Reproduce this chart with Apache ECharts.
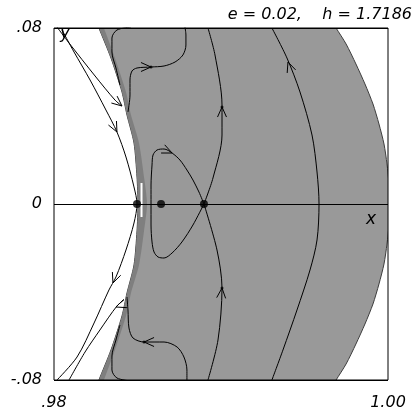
<!DOCTYPE html>
<html>
<head>
<meta charset="utf-8">
<script src="https://cdn.jsdelivr.net/npm/echarts@6.0.0/dist/echarts.min.js"></script>
<style>
html,body{margin:0;padding:0;background:#fff;}
#main{width:420px;height:420px;}
</style>
</head>
<body>
<div id="main"></div>
<script>
// shaded region, left edge (top -> bottom) and right edge (bottom -> top)
var shadeLeft = [[0.98251,0.08364],[0.98269,0.08],[0.98341,0.06636],[0.98407,0.05091],[0.98437,0.04045],[0.98479,0.02773],[0.98497,0.01227],[0.98503,0],
    [0.98497,-0.01227],[0.98479,-0.02773],[0.98437,-0.04045],[0.98407,-0.05091],[0.98341,-0.06636],[0.98269,-0.08],[0.98251,-0.08364]];
var shadeRight = [[0.99659,-0.08364],[0.99689,-0.08],[0.99749,-0.07273],[0.99808,-0.06364],[0.99862,-0.05455],[0.9991,-0.04545],[0.99946,-0.03636],[0.99976,-0.02727],[0.99994,-0.01818],[1.00006,-0.00909],[1.00012,0],
    [1.00006,0.00909],[0.99994,0.01818],[0.99976,0.02727],[0.99946,0.03636],[0.9991,0.04545],[0.99862,0.05455],[0.99808,0.06364],[0.99749,0.07273],[0.99689,0.08],[0.99659,0.08364]];
// inner edge of the darker band along the left edge
var stripInner = [[0.98281,0.08364],[0.98299,0.08],[0.98365,0.06636],[0.98431,0.05091],[0.98461,0.04045],[0.98509,0.02773],[0.98539,0.01227],[0.98557,0],
    [0.98539,-0.01227],[0.98509,-0.02773],[0.98461,-0.04045],[0.98431,-0.05091],[0.98365,-0.06636],[0.98299,-0.08],[0.98281,-0.08364]];
var notch = [[0.98524,0.00955],[0.98524,-0.00591]];

// orbits
var orbitOuter = [[0.99305,0.08],[0.99395,0.06636],[0.99473,0.05091],[0.99545,0.03136],[0.99575,0.01455],[0.99587,0],[0.99575,-0.01636],[0.99533,-0.03],[0.99455,-0.04818],[0.99371,-0.06636],[0.99305,-0.08]];
var orbitUp = [[0.98898,0],[0.98952,0.01182],[0.99006,0.03136],[0.99006,0.045],[0.98964,0.06773],[0.98922,0.08]];
var orbitDown = [[0.98898,0],[0.98976,-0.02091],[0.99006,-0.03818],[0.98982,-0.06182],[0.98922,-0.08]];
var loopOrbit = [[0.98898,0],[0.98868,0.00545],[0.98832,0.01091],[0.98796,0.01545],[0.98754,0.02],[0.98707,0.02318],[0.98659,0.025],[0.98617,0.02455],[0.98593,0.02227],[0.98587,0.01773],[0.98581,0.00864],[0.98581,0],
    [0.98581,-0.00955],[0.98587,-0.01727],[0.98599,-0.02182],[0.98623,-0.02409],[0.98659,-0.02455],[0.98707,-0.02227],[0.98766,-0.01727],[0.98832,-0.00955],[0.98898,0]];
var hookTop = [[0.98443,0.04182],[0.98455,0.04955],[0.98455,0.05636],[0.98467,0.06045],[0.98497,0.06182],[0.98581,0.06227],[0.98659,0.06273],[0.98725,0.06455],[0.98772,0.06773],[0.9879,0.07227],[0.9879,0.07682],[0.98784,0.08045]];
var hookBottom = [[0.98437,-0.04227],[0.98443,-0.04818],[0.98449,-0.05636],[0.98473,-0.06091],[0.98539,-0.06273],[0.98659,-0.06273],[0.98737,-0.065],[0.98778,-0.06955],[0.98796,-0.07545],[0.98796,-0.08091]];
var capTop = [[0.98461,0.08045],[0.98377,0.07909],[0.98347,0.07545],[0.98347,0.06909],[0.98371,0.06182],[0.98395,0.05409]];
var capBottom = [[0.98461,-0.08045],[0.98377,-0.07909],[0.98347,-0.07545],[0.98347,-0.06909],[0.98371,-0.06182],[0.98395,-0.055]];
var leftInner = [[0.98048,0.07909],[0.9812,0.06909],[0.98216,0.05636],[0.98311,0.04273],[0.98377,0.03273],[0.98431,0.02136],[0.98479,0.00773],[0.98497,0],
    [0.98479,-0.00864],[0.98431,-0.02091],[0.98371,-0.03318],[0.98329,-0.03909],[0.9824,-0.05409],[0.98138,-0.06955],[0.98018,-0.08]];
var leftOuterTop = [[0.98018,0.08045],[0.9809,0.07318],[0.98246,0.05818],[0.98365,0.04727],[0.98407,0.04455]];
var leftOuterBottom = [[0.98419,-0.04364],[0.98377,-0.04636],[0.98275,-0.05727],[0.98186,-0.06727],[0.9809,-0.08]];

// arrowheads: [tip x, tip y, back x, back y]
var arrowHeads = [
    [0.99401,0.06455,0.99425,0.05955],
    [0.99006,0.04409,0.99006,0.03864],
    [0.99006,-0.03818,0.99,-0.04364],
    [0.98707,0.02318,0.98653,0.025],
    [0.98581,0.06227,0.98515,0.06227],
    [0.98539,-0.06273,0.98605,-0.06273],
    [0.98377,0.03273,0.98335,0.03909],
    [0.98353,-0.03591,0.98383,-0.03],
    [0.98407,0.04455,0.98335,0.04909],
    [0.98371,-0.04682,0.98419,-0.04545]
];
var fixedPoints = [[0.98497,0],[0.98641,0],[0.98898,0]];
var tipDots = [[0.99006,0.04409],[0.99006,-0.03818],[0.98581,0.06227],[0.98539,-0.06273]];

var xTicks = ['.98','1.00'];
var yTicks = ['-.08','0','.08'];

var dom = document.getElementById('main');
var myChart = echarts.init(dom);
var font = 'DejaVu Sans';

function orbit(data){
    return {type:'line', data:data, showSymbol:false, smooth:0.3, silent:true, animation:false, z:5,
        lineStyle:{color:'#000', width:1}};
}
function shape(pts, fill, stroke, z){
    return {type:'custom', clip:true, silent:true, animation:false, z:z, data:[[0.99,0]],
        renderItem:function(params, api){
            var p = pts.map(function(d){ return api.coord(d); });
            return {type:'polygon', shape:{points:p, smooth:0.25},
                style:{fill:fill, stroke:stroke, lineWidth:stroke ? 1 : 0}};
        }};
}

var option = {
    animation:false,
    title:{text:'e = 0.02,    h = 1.7186', right:3, top:2,
        textStyle:{fontFamily:font, fontStyle:'italic', fontWeight:'normal', fontSize:16, color:'#000'}},
    grid:{left:54, right:32, top:28, bottom:40, show:true, z:10, borderColor:'#000', borderWidth:1, backgroundColor:'transparent', outerBoundsMode:'none'},
    xAxis:{type:'value', min:0.98, max:1.0, interval:0.02, z:10,
        axisLine:{show:false}, axisTick:{show:false}, splitLine:{show:false},
        axisLabel:{margin:15, color:'#000', fontFamily:font, fontStyle:'italic', fontSize:16, showMinLabel:true, showMaxLabel:true,
            formatter:function(v){ return v < 0.99 ? xTicks[0] : xTicks[1]; }}},
    yAxis:{type:'value', min:-0.08, max:0.08, interval:0.08, z:10,
        axisLine:{show:false}, axisTick:{show:false},
        splitLine:{show:true, lineStyle:{color:'#000', width:1}},
        axisLabel:{margin:12, color:'#000', fontFamily:font, fontStyle:'italic', fontSize:16, showMinLabel:true, showMaxLabel:true,
            formatter:function(v){ return v > 0.01 ? yTicks[2] : (v < -0.01 ? yTicks[0] : yTicks[1]); }}},
    graphic:[
        {type:'text', left:60, top:25, z:20, style:{text:'y', font:'italic 17px "DejaVu Sans"', fill:'#000'}},
        {type:'text', left:366, top:211, z:20, style:{text:'x', font:'italic 17px "DejaVu Sans"', fill:'#000'}}
    ],
    series:[
        shape(shadeLeft.concat(shadeRight), '#999999', '#3c3c3c', 1),
        shape(shadeLeft.concat(stripInner.slice().reverse()), '#7f7f7f', null, 2),
        {type:'line', data:notch, showSymbol:false, silent:true, z:3, lineStyle:{color:'#fff', width:2}},
        orbit(orbitOuter), orbit(orbitUp), orbit(orbitDown), orbit(loopOrbit),
        orbit(hookTop), orbit(hookBottom), orbit(capTop), orbit(capBottom),
        orbit(leftInner), orbit(leftOuterTop), orbit(leftOuterBottom),
        {type:'custom', silent:true, animation:false, z:6, data:arrowHeads, encode:{x:[0,2], y:[1,3]},
            renderItem:function(params, api){
                var tip = api.coord([api.value(0), api.value(1)]);
                var back = api.coord([api.value(2), api.value(3)]);
                var dx = back[0]-tip[0], dy = back[1]-tip[1];
                var len = Math.sqrt(dx*dx+dy*dy);
                dx /= len; dy /= len;
                var a = 0.42, L = 11, c = Math.cos(a), s = Math.sin(a);
                var p1 = [tip[0]+L*(dx*c-dy*s), tip[1]+L*(dx*s+dy*c)];
                var p2 = [tip[0]+L*(dx*c+dy*s), tip[1]+L*(-dx*s+dy*c)];
                return {type:'polyline', shape:{points:[p1, tip, p2]}, style:{stroke:'#000', lineWidth:1, fill:null}};
            }},
        {type:'scatter', data:tipDots, symbolSize:3, silent:true, z:7, itemStyle:{color:'#000'}},
        {type:'scatter', data:fixedPoints, symbolSize:8, silent:true, z:12, itemStyle:{color:'#000'}}
    ]
};
myChart.setOption(option);
</script>
</body>
</html>
